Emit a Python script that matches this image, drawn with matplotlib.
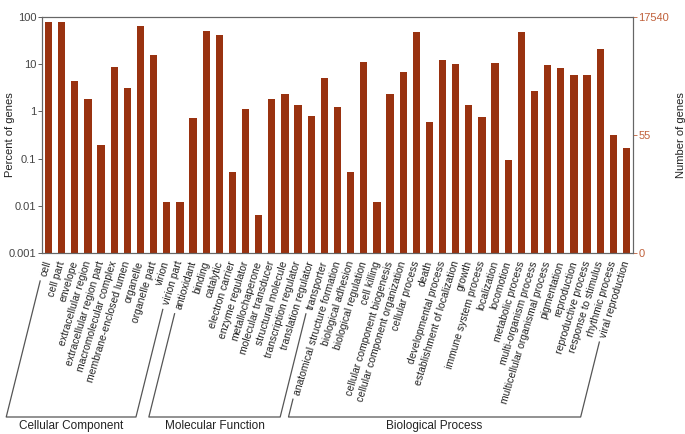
import numpy as np
import matplotlib
matplotlib.use("Agg")
import matplotlib.pyplot as plt
from matplotlib.lines import Line2D

plt.rcParams['font.family'] = ['Liberation Sans', 'DejaVu Sans']

# GO terms, grouped
cc_terms = ["cell", "cell part", "envelope", "extracellular region",
            "extracellular region part", "macromolecular complex",
            "membrane-enclosed lumen", "organelle", "organelle part",
            "virion", "virion part"]
mf_terms = ["antioxidant", "binding", "catalytic", "electron carrier",
            "enzyme regulator", "metallochaperone", "molecular transducer",
            "structural molecule", "transcription regulator",
            "translation regulator", "transporter"]
bp_terms = ["anatomical structure formation", "biological adhesion",
            "biological regulation", "cell killing",
            "cellular component biogenesis", "cellular component organization",
            "cellular process", "death", "developmental process",
            "establishment of localization", "growth", "immune system process",
            "localization", "locomotion", "metabolic process",
            "multi-organism process", "multicellular organismal process",
            "pigmentation", "reproduction", "reproductive process",
            "response to stimulus", "rhythmic process", "viral reproduction"]

# percent of genes
cc_pct = [80, 80, 4.4, 1.8, 0.19, 8.6, 3.2, 63, 16, 0.011, 0.011]
mf_pct = [0.72, 51, 42, 0.05, 1.1, 0.0054, 1.8, 2.3, 1.37, 0.8, 5.2]
bp_pct = [1.24, 0.051, 11, 0.011, 2.3, 6.7, 48, 0.59, 12.5, 10, 1.37, 0.77,
          10.6, 0.093, 48, 2.65, 9.8, 8.3, 6.0, 5.8, 21, 0.31, 0.165]

group_names = ["Cellular Component", "Molecular Function", "Biological Process"]

right_ticks = ["17540", "55", "0"]

terms = cc_terms + mf_terms + bp_terms
pct = cc_pct + mf_pct + bp_pct
x = np.arange(len(terms))

bar_col = "#993210"
W, H = 685, 434
fig = plt.figure(figsize=(W / 100, H / 100), dpi=100)
ax = fig.add_axes([42 / W, 1 - 253 / H, (633 - 42) / W, (253 - 17) / H])

ax.bar(x, pct, width=0.55, color=bar_col, bottom=0.001)
ax.set_yscale("log")
ax.set_ylim(0.001, 100)
ax.set_xlim(-0.5, len(terms) - 0.5)
ax.set_yticks([100, 10, 1, 0.1, 0.01, 0.001])
ax.set_yticklabels(["100", "10", "1", "0.1", "0.01", "0.001"])
ax.minorticks_off()
ax.tick_params(axis="y", labelsize=8, colors="#444444", length=3, width=0.6, pad=1)
ax.set_ylabel("Percent of genes", fontsize=8, color="#222222")
ax.yaxis.set_label_coords(-0.046, 0.5)

ax.set_xticks(x)
ax.set_xticklabels(terms, rotation=73, ha="right", va="center",
                   rotation_mode="anchor", fontsize=7.5, color="#222222")
ax.tick_params(axis="x", length=0, pad=6)
ax.set_xticks(x + 0.5, minor=True)
ax.tick_params(axis="x", which="minor", direction="in", length=2,
               width=0.6, top=True, bottom=True, color="#444444")

for s in ax.spines.values():
    s.set_color("#666666")
    s.set_linewidth(0.8)

ax2 = ax.twinx()
ax2.set_yscale("log")
ax2.set_ylim(0.001, 100)
ax2.set_yticks([100, 10 ** -0.5, 0.001])
ax2.set_yticklabels(right_ticks)
ax2.minorticks_off()
ax2.tick_params(axis="y", labelsize=8, colors="#c0603a", length=3, width=0.6, pad=1)
ax2.set_ylabel("Number of genes", fontsize=8, color="#222222")
ax2.yaxis.set_label_coords(1.073, 0.5)
for s in ax2.spines.values():
    s.set_color("#666666")
    s.set_linewidth(0.8)

# group brackets drawn from the ends of the first/last labels of each group
fig.canvas.draw()
rend = fig.canvas.get_renderer()
labels = ax.get_xticklabels()
ang = np.deg2rad(76)
ybot = H - 417  # display coords


def foot(lab):
    bb = lab.get_window_extent(rend)
    x0, y0 = bb.x0 + 1, bb.y0 - 3
    xb = x0 - (y0 - ybot) / np.tan(ang)
    return (x0, y0), (xb, ybot)


idx = 0
for name, grp in zip(group_names, [cc_terms, mf_terms, bp_terms]):
    first = labels[idx]
    last = labels[idx + len(grp) - 1]
    (ax0, ay0), (bx0, by0) = foot(first)
    (ax1, ay1), (bx1, by1) = foot(last)
    pts_x = [ax0, bx0, bx1, ax1]
    pts_y = [ay0, by0, by1, ay1]
    fx = [p / W for p in pts_x]
    fy = [p / H for p in pts_y]
    fig.add_artist(Line2D(fx, fy, color="#555555", lw=0.9,
                          transform=fig.transFigure))
    fig.text((bx0 + bx1) / 2 / W, (ybot - 9) / H, name, ha="center",
             va="center", fontsize=8.5, color="#222222")
    idx += len(grp)

fig.savefig("out.png", dpi=100)
